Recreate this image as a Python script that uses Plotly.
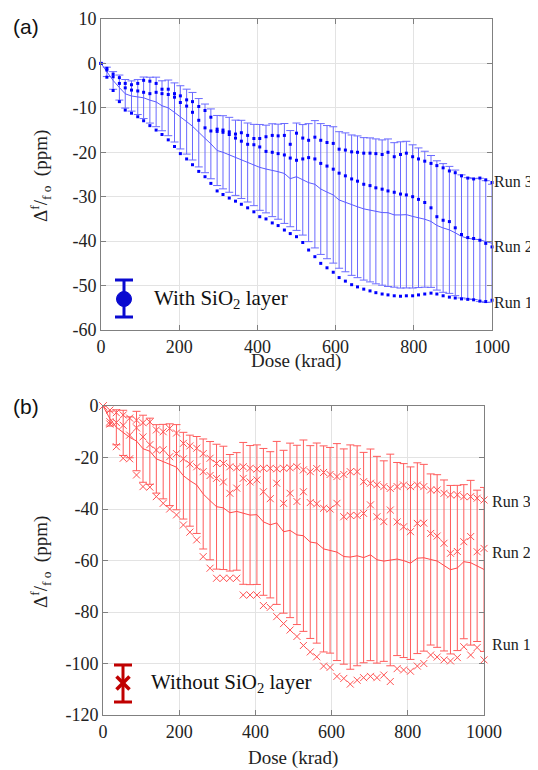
import numpy as np
import plotly.graph_objects as go

# ---------------- data: panel (a) with SiO2 layer ----------------
dose_a = [0, 15, 31, 47, 62, 78, 94, 109, 125, 141, 156, 172, 188, 203, 219, 234,
          250, 266, 281, 297, 312, 328, 344, 359, 375, 391, 406, 422, 438, 453, 469, 484,
          500, 516, 531, 547, 562, 578, 594, 609, 625, 641, 656, 672, 688, 703, 719, 734,
          750, 766, 781, 797, 812, 828, 844, 859, 875, 891, 906, 922, 938, 953, 969, 984, 1000]

run1_a = [0, -3.1, -6.1, -8.6, -10.5, -11.2, -12.0, -12.9, -14.0, -15.0, -16.0, -17.2, -18.7, -20.3, -21.5, -22.8,
          -24.3, -25.5, -27.0, -28.7, -29.5, -30.3, -31.0, -31.7, -32.5, -33.4, -34.5, -35.0, -35.9, -36.5, -37.5, -38.3,
          -39.0, -40.3, -42.0, -43.5, -45.0, -46.0, -47.0, -48.2, -49.0, -49.8, -50.3, -50.8, -51.2, -51.6, -51.9, -52.1,
          -52.3, -52.4, -52.3, -52.3, -52.1, -51.9, -51.7, -51.9, -52.3, -52.6, -52.8, -53.0, -53.1, -53.2, -53.5, -53.6, -53.3]

run2_a = [0, -1.5, -3.0, -4.5, -5.5, -6.0, -6.2, -6.5, -6.8, -6.5, -6.8, -7.0, -7.6, -8.8, -9.6, -11.0,
          -12.8, -14.5, -15.2, -15.3, -15.5, -16.0, -16.8, -17.5, -18.2, -18.3, -18.8, -19.8, -20.0, -20.3, -20.6, -21.3,
          -21.8, -21.5, -21.2, -21.5, -22.5, -23.1, -23.8, -24.7, -25.3, -26.0, -26.5, -27.2, -27.5, -28.0, -28.3, -28.7,
          -29.0, -29.4, -29.6, -30.0, -30.6, -31.3, -32.5, -34.5, -35.3, -35.6, -37.0, -38.5, -39.2, -39.4, -39.8, -40.5, -41.3]

run3_a = [0, -1.1, -2.4, -3.2, -4.5, -4.8, -4.5, -3.8, -4.0, -4.5, -5.8, -5.8, -6.8, -7.3, -8.2, -8.6,
          -9.7, -10.6, -12.1, -14.8, -15.0, -15.4, -15.9, -15.6, -16.2, -16.9, -16.9, -16.5, -16.2, -16.3, -16.2, -18.2,
          -15.7, -16.8, -17.3, -16.6, -17.3, -17.8, -18.0, -19.3, -19.5, -19.9, -20.0, -20.2, -20.2, -20.3, -20.5, -20.0,
          -21.0, -20.5, -20.2, -21.0, -21.5, -22.0, -22.5, -23.0, -23.5, -24.2, -24.6, -25.3, -25.8, -26.0, -25.8, -26.2, -26.8]

# ---------------- data: panel (b) without SiO2 layer ----------------
dose_b = [0, 18, 35, 53, 70, 88, 105, 123, 140, 158, 175, 193, 211, 228, 246, 263,
          281, 298, 316, 333, 351, 368, 386, 404, 421, 439, 456, 474, 491, 509, 526, 544,
          561, 579, 596, 614, 632, 649, 667, 684, 702, 719, 737, 754, 772, 789, 807, 825,
          842, 860, 877, 895, 912, 930, 947, 965, 982, 1000]

run1_b = [0, -7.0, -15.8, -20.3, -20.5, -26.8, -31.3, -31.5, -35.2, -37.8, -40.0, -42.3, -46.2, -49.0, -52.0, -58.5,
          -63.0, -66.9, -66.9, -66.9, -66.9, -73.4, -73.4, -73.4, -77.5, -78.2, -81.8, -84.5, -87.0, -89.5, -93.0, -95.5,
          -97.4, -101.0, -101.5, -105.0, -105.8, -108.0, -106.5, -105.5, -105.0, -105.5, -104.5, -107.0, -102.0, -102.5, -103.0, -101.0,
          -100.0, -96.7, -97.5, -98.6, -99.0, -97.7, -93.5, -96.7, -93.8, -98.6]

run2_b = [0, -6.1, -6.4, -7.5, -11.3, -8.5, -12.0, -15.0, -17.1, -17.0, -19.7, -18.5, -20.5, -22.5, -23.6, -25.5,
          -27.0, -28.1, -29.5, -33.9, -31.9, -28.1, -29.5, -28.7, -33.3, -36.0, -30.0, -37.8, -33.9, -37.1, -33.3, -37.5,
          -38.0, -39.7, -40.0, -37.8, -43.0, -42.5, -42.5, -41.7, -38.4, -43.0, -44.9, -40.4, -45.0, -46.9, -48.8, -45.6,
          -45.5, -49.5, -50.5, -53.3, -57.2, -56.5, -52.7, -50.7, -56.6, -55.3]

run3_b = [0, -1.6, -2.6, -3.5, -4.7, -5.5, -6.5, -6.2, -9.3, -10.0, -8.7, -10.5, -14.5, -15.5, -16.4, -18.5,
          -20.3, -22.3, -22.3, -23.6, -24.0, -23.6, -24.2, -24.5, -24.2, -24.2, -24.4, -24.2, -24.0, -23.6, -24.8, -25.5,
          -24.3, -25.8, -26.6, -27.4, -26.6, -25.5, -25.5, -29.4, -30.0, -30.6, -31.3, -32.0, -31.3, -30.7, -31.3, -30.7,
          -31.3, -32.6, -32.6, -33.9, -34.5, -34.5, -35.2, -35.2, -35.8, -36.5]

run_names = ["Run 1", "Run 2", "Run 3"]
label_y_a = [-53.7, -41.3, -26.5]
label_y_b = [-92.8, -56.7, -37.0]

xticks = [0, 200, 400, 600, 800, 1000]
yticks_a = [10, 0, -10, -20, -30, -40, -50, -60]
yticks_b = [0, -20, -40, -60, -80, -100, -120]

# ---------------- figure ----------------
# the page body has an 8 px margin; the figure is offset to compensate
OFF = 8
W, H = 538 - OFF, 770 - OFF
def px(x):
    return (x - OFF) / W
def py(y):
    return 1 - (y - OFF) / H

SERIF = "Liberation Serif, Times New Roman, serif"
SANS = "Liberation Sans, Arial, sans-serif"
TXT = "#222222"

fig = go.Figure()

def add_panel(dose, runs, xa, ya, mean_col, bar_col, mk_col, symbol, msize, mline):
    arr = np.array(runs, dtype=float)
    mean = arr.mean(axis=0)
    std = arr.std(axis=0, ddof=1)
    fig.add_trace(go.Scatter(
        x=dose, y=mean, mode="lines", xaxis=xa, yaxis=ya,
        line=dict(color=mean_col, width=1),
        error_y=dict(type="data", array=std, visible=True, color=bar_col,
                     thickness=1, width=4),
        showlegend=False, hoverinfo="skip"))
    for r in runs:
        fig.add_trace(go.Scatter(
            x=dose, y=r, mode="markers", xaxis=xa, yaxis=ya,
            marker=dict(symbol=symbol, size=msize, color=mk_col,
                        line=dict(color=mk_col, width=mline)),
            cliponaxis=False, showlegend=False))

add_panel(dose_a, [run1_a, run2_a, run3_a], "x", "y",
          "#5a5aff", "#6a6aff", "#0000ff", "square", 3, 0)
add_panel(dose_b, [run1_b, run2_b, run3_b], "x2", "y2",
          "#ff4a4a", "#ff5c5c", "#ff5050", "x-thin-open", 7, 1)

axis_common = dict(
    showline=True, linecolor="#808080", linewidth=1, mirror="ticks",
    ticks="inside", ticklen=5, tickcolor="#808080", automargin=False,
    showgrid=True, gridcolor="#e3e3e3", gridwidth=1, zeroline=False,
    tickfont=dict(family=SERIF, size=18, color=TXT),
)

fig.update_layout(
    template="none",
    width=W, height=H, margin=dict(l=0, r=0, t=0, b=0, pad=0, autoexpand=False),
    paper_bgcolor="white", plot_bgcolor="white", showlegend=False,
    xaxis=dict(domain=[px(101), px(492)], anchor="y", range=[0, 1000],
               tickvals=xticks, ticktext=[str(v) for v in xticks], **axis_common),
    yaxis=dict(domain=[py(330), py(19)], anchor="x", range=[-60, 10],
               tickvals=yticks_a, ticktext=[str(v) for v in yticks_a], **axis_common),
    xaxis2=dict(domain=[px(103), px(484)], anchor="y2", range=[0, 1000],
                tickvals=xticks, ticktext=[str(v) for v in xticks], **axis_common),
    yaxis2=dict(domain=[py(715), py(406)], anchor="x2", range=[-120, 0],
                tickvals=yticks_b, ticktext=[str(v) for v in yticks_b], **axis_common),
)

def ptext(text, x, y, size, family=SERIF, color=TXT, xanchor="center", angle=0):
    return dict(text=text, x=px(x), y=py(y), xref="paper", yref="paper",
                xanchor=xanchor, yanchor="middle", textangle=angle, showarrow=False,
                borderpad=0, font=dict(family=family, size=size, color=color))

ann = []
ann.append(ptext("(a)", 26, 27, 21, SANS, "#111"))
ann.append(ptext("(b)", 26, 406, 21, SANS, "#111"))
ann.append(ptext("Dose (krad)", 296, 361, 19))
ann.append(ptext("Dose (krad)", 293, 758, 19))
ytitle = "Δ<sup>f</sup>/<sub>f</sub><sub> o</sub>  (ppm)"
ann.append(ptext(ytitle, 40, 176, 19, angle=-90))
ann.append(ptext(ytitle, 40, 562, 19, angle=-90))
for name, yv in zip(run_names, label_y_a):
    ann.append(dict(text=name, x=1000, y=yv, xref="x", yref="y", xanchor="left",
                    yanchor="middle", xshift=1, borderpad=0, showarrow=False,
                    font=dict(family=SERIF, size=16, color=TXT)))
for name, yv in zip(run_names, label_y_b):
    ann.append(dict(text=name, x=1000, y=yv, xref="x2", yref="y2", xanchor="left",
                    yanchor="middle", xshift=7, borderpad=0, showarrow=False,
                    font=dict(family=SERIF, size=16, color=TXT)))
ann.append(ptext("With SiO<sub>2</sub> layer", 153, 299, 21, color="#111", xanchor="left"))
ann.append(ptext("Without SiO<sub>2</sub> layer", 150, 683, 21, color="#111", xanchor="left"))
fig.update_layout(annotations=ann)

shapes = []
BLUE = "#0a0ad0"
RED = "#c00000"
def seg(x0, y0, x1, y1, col, w):
    return dict(type="line", xref="paper", yref="paper", x0=px(x0), y0=py(y0),
                x1=px(x1), y1=py(y1), line=dict(color=col, width=w))
shapes += [seg(124, 280, 124, 317, BLUE, 3), seg(115, 280, 133, 280, BLUE, 3),
           seg(115, 317, 133, 317, BLUE, 3)]
shapes.append(dict(type="circle", xref="paper", yref="paper", x0=px(116.5), x1=px(131.5),
                   y0=py(306.5), y1=py(291.5), fillcolor=BLUE, line=dict(color=BLUE, width=1)))
shapes += [seg(123, 665, 123, 702, RED, 3), seg(114, 665, 132, 665, RED, 3),
           seg(114, 702, 132, 702, RED, 3),
           seg(116.5, 676.5, 129.5, 689.5, RED, 3.5), seg(116.5, 689.5, 129.5, 676.5, RED, 3.5)]
fig.update_layout(shapes=shapes)

fig.write_html("out.html")
